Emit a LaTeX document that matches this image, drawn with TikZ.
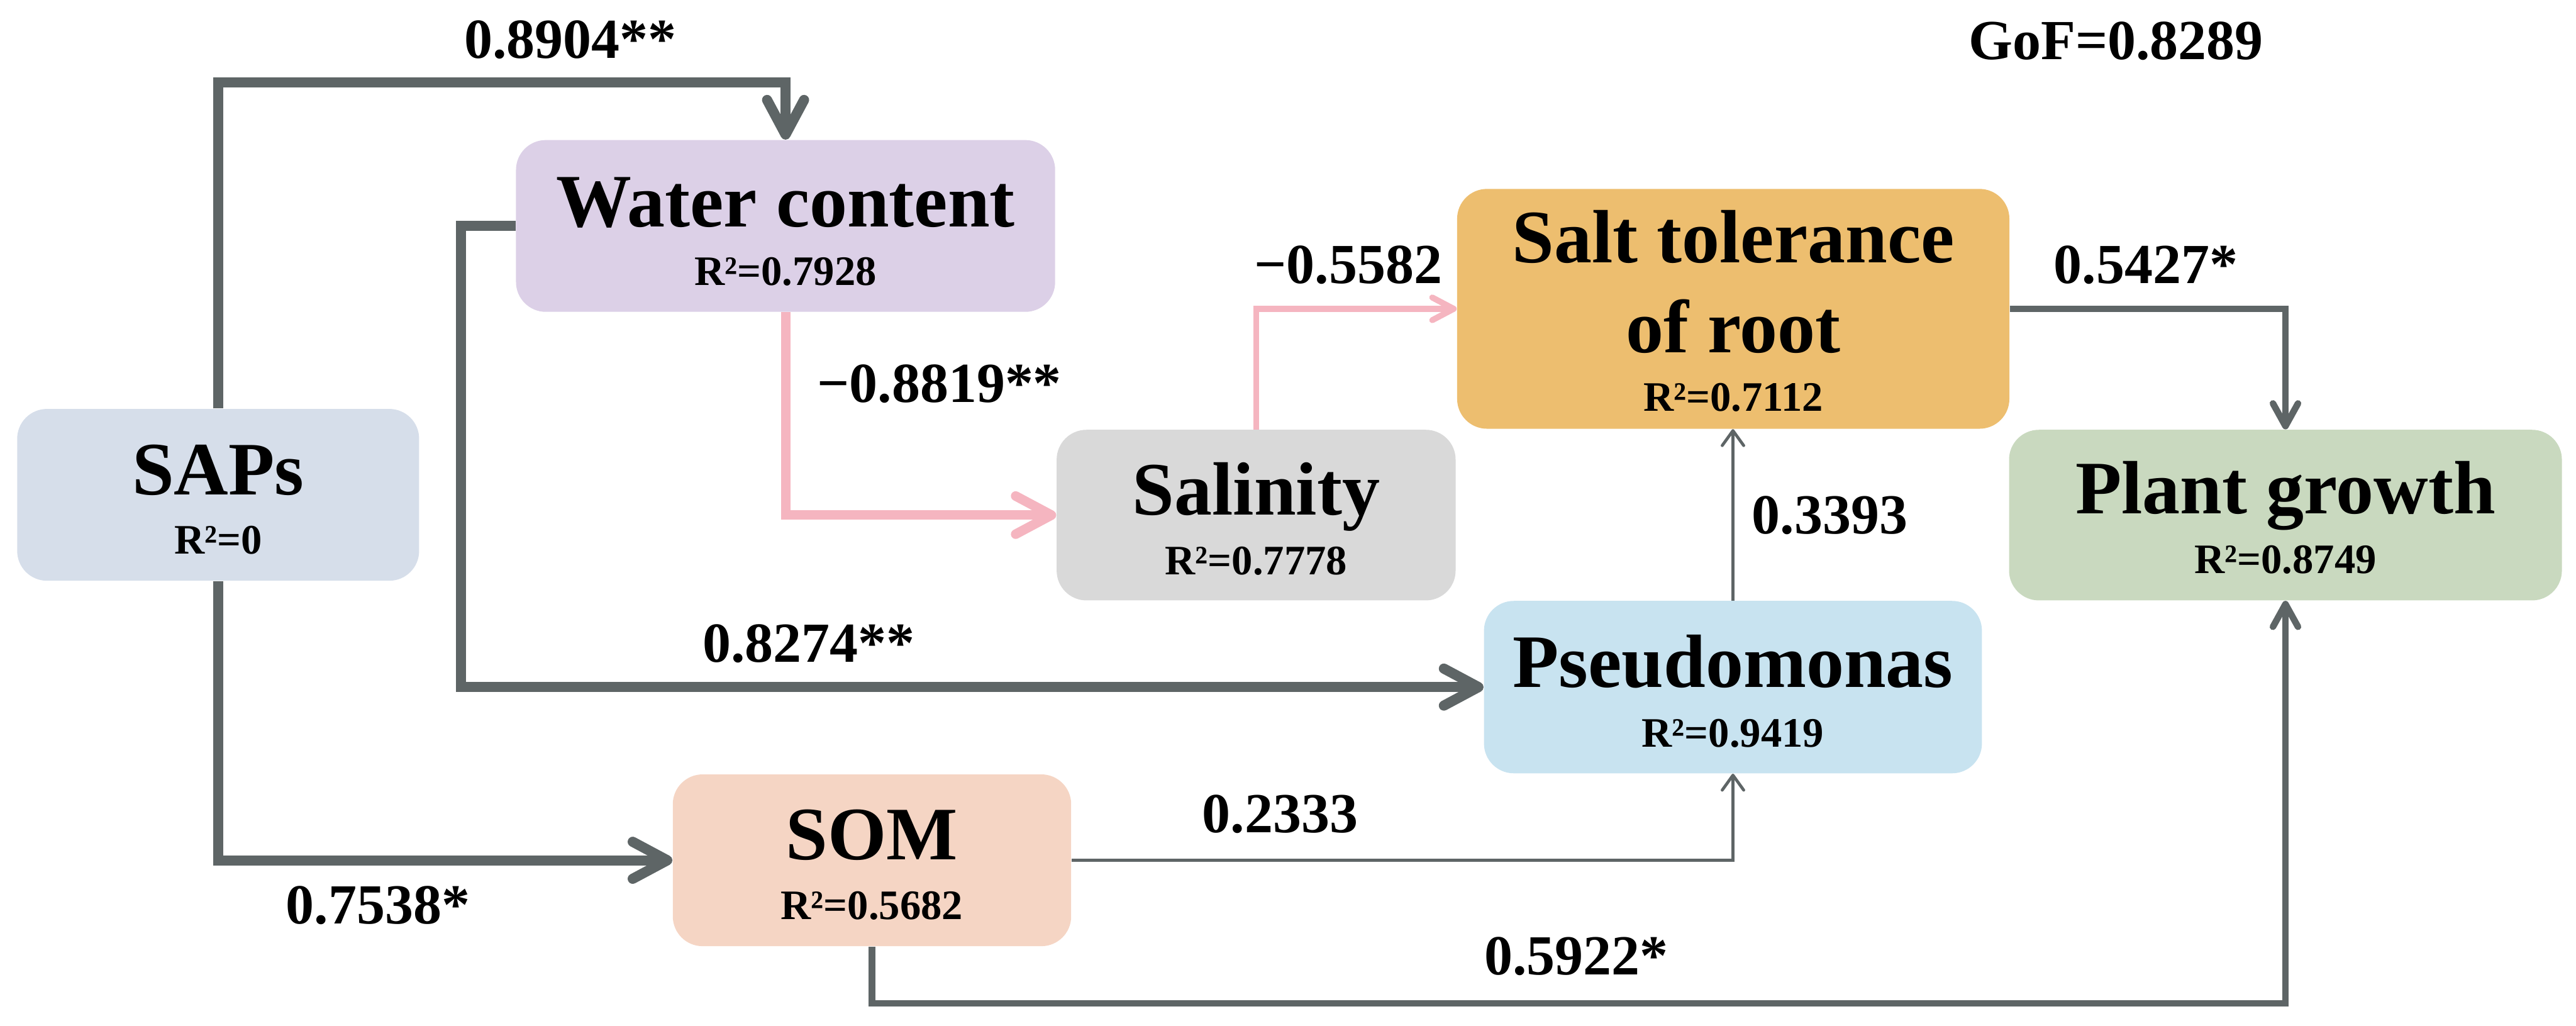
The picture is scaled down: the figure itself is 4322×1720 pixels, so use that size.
\documentclass[tikz,border=0pt]{standalone}
\usepackage{fontspec}
\setmainfont{Liberation Serif}
\usetikzlibrary{arrows.meta}
\definecolor{cSAP}{HTML}{D6DEEA}
\definecolor{cWater}{HTML}{DCD0E7}
\definecolor{cSal}{HTML}{D9D9D9}
\definecolor{cSalt}{HTML}{EDBE6F}
\definecolor{cPlant}{HTML}{C9D9BF}
\definecolor{cPseudo}{HTML}{C8E3F0}
\definecolor{cSOM}{HTML}{F5D5C4}
\definecolor{lineg}{HTML}{5E6566}
\definecolor{linep}{HTML}{F5B5C0}
\begin{document}
\begin{tikzpicture}[x=0.01cm,y=-0.01cm,
  box/.style={rounded corners=0.5cm, inner sep=0pt, draw=none},
  tbig/.style={font=\fontsize{36}{40}\selectfont\bfseries, inner sep=0pt, anchor=base},
  tsmall/.style={font=\fontsize{20}{24}\selectfont\bfseries, inner sep=0pt, anchor=base},
  elab/.style={font=\fontsize{27}{30}\selectfont\bfseries, inner sep=0pt, anchor=base},
  gthick/.style={draw=lineg, line width=0.17cm, -{Straight Barb[length=0.58cm,width=0.62cm,round]}},
  gmed/.style={draw=lineg, line width=0.11cm, -{Straight Barb[length=0.38cm,width=0.42cm,round]}},
  gthin/.style={draw=lineg, line width=0.05cm, -{Straight Barb[length=0.25cm,width=0.36cm,round]}},
  pthick/.style={draw=linep, line width=0.16cm, -{Straight Barb[length=0.6cm,width=0.64cm,round]}},
  pthin/.style={draw=linep, line width=0.10cm, -{Straight Barb[length=0.36cm,width=0.38cm,round]}}
]
\useasboundingbox (0,0) rectangle (4322,1720);

% boxes
\node[box, fill=cSAP, minimum width=6.74cm, minimum height=2.88cm] (SAPs) at (366,830) {};
\node[box, fill=cWater, minimum width=9.04cm, minimum height=2.88cm] (Water) at (1318,379) {};
\node[box, fill=cSal, minimum width=6.69cm, minimum height=2.86cm] (Sal) at (2107.5,864) {};
\node[box, fill=cSalt, minimum width=9.26cm, minimum height=4.02cm] (Salt) at (2908,518) {};
\node[box, fill=cPlant, minimum width=9.27cm, minimum height=2.86cm] (Plant) at (3834.5,864) {};
\node[box, fill=cPseudo, minimum width=8.35cm, minimum height=2.89cm] (Pseudo) at (2907.5,1152.5) {};
\node[box, fill=cSOM, minimum width=6.68cm, minimum height=2.88cm] (SOM) at (1463,1443) {};

% box texts
\node[tbig] (tSAPs) at (366,830) {SAPs};
\node[tsmall] (rSAPs) at (366,929) {R²=0};
\node[tbig] (tWater) at (1318,380) {Water content};
\node[tsmall] (rWater) at (1318,478) {R²=0.7928};
\node[tbig] (tSal) at (2107.5,864) {Salinity};
\node[tsmall] (rSal) at (2107.5,964) {R²=0.7778};
\node[tbig] (tSalt1) at (2908,441) {Salt tolerance};
\node[tbig] (tSalt2) at (2908,591) {of root};
\node[tsmall] (rSalt) at (2908,690) {R²=0.7112};
\node[tbig] (tPlant) at (3834.5,862) {Plant growth};
\node[tsmall] (rPlant) at (3834.5,962) {R²=0.8749};
\node[tbig] (tPseudo) at (2907.5,1153) {Pseudomonas};
\node[tsmall] (rPseudo) at (2907.5,1253) {R²=0.9419};
\node[tbig] (tSOM) at (1463,1442) {SOM};
\node[tsmall] (rSOM) at (1463,1542) {R²=0.5682};

% helper coordinates
\coordinate (yT) at (0,138);
\coordinate (xW) at (773,0);
\coordinate (yB) at (0,1683);

% connectors
\draw[gthick] (SAPs.north) -- (SAPs.north |- yT) -| (Water.north);
\draw[gthick] (SAPs.south) |- (SOM.west);
\draw[gthick] (Water.west) -- (xW |- Water.west) |- (Pseudo.west);
\draw[pthick] (Water.south) |- (Sal.west);
\draw[pthin] (Sal.north) |- (Salt.west);
\draw[gmed] (Salt.east) -| (Plant.north);
\draw[gthin] (Pseudo.north) -- (Pseudo.north |- Salt.south);
\draw[gthin] (SOM.east) -| (Pseudo.south);
\draw[gmed] (SOM.south) -- (SOM.south |- yB) -| (Plant.south);

% edge labels
\node[elab] (l1) at (957,98) {0.8904**};
\node[elab] (gof) at (3550,100) {GoF=0.8289};
\node[elab] (l2) at (1576,675) {−0.8819**};
\node[elab] (l3) at (2262,475) {−0.5582};
\node[elab] (l4) at (3600,475) {0.5427*};
\node[elab] (l5) at (3070,895) {0.3393};
\node[elab] (l6) at (1357,1111) {0.8274**};
\node[elab] (l7) at (2148,1396) {0.2333};
\node[elab] (l8) at (634,1549) {0.7538*};
\node[elab] (l9) at (2645,1635) {0.5922*};
\end{tikzpicture}
\end{document}
